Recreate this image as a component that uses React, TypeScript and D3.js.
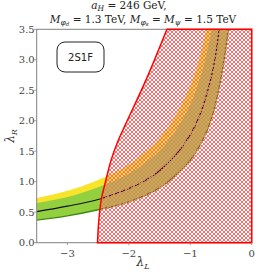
import * as d3 from 'd3';

const W = 258;
const H = 276;
const margin = { top: 29.3, right: 6.3, bottom: 33.3, left: 36.7 };

// [lambda_L, lambda_R] pairs
const centralLine: [number, number][] = [
  [-3.5, 0.51], [-3.0, 0.6], [-2.5, 0.71], [-2.0, 0.89], [-1.75, 1.01], [-1.5, 1.18],
  [-1.25, 1.42], [-1.0, 1.77], [-0.85, 2.08], [-0.7, 2.55], [-0.6, 3.0], [-0.53, 3.5],
];
const greenUpper: [number, number][] = [
  [-3.5, 0.65], [-3.0, 0.75], [-2.5, 0.91], [-2.0, 1.13], [-1.75, 1.3], [-1.5, 1.51],
  [-1.25, 1.82], [-1.0, 2.27], [-0.85, 2.67], [-0.75, 3.03], [-0.65, 3.5],
];
const greenLower: [number, number][] = [
  [-3.5, 0.37], [-3.0, 0.44], [-2.5, 0.54], [-2.0, 0.67], [-1.5, 0.9], [-1.2, 1.14],
  [-1.0, 1.35], [-0.8, 1.68], [-0.65, 2.05], [-0.53, 2.55], [-0.45, 3.0], [-0.38, 3.5],
];
const yellowUpper: [number, number][] = [
  [-3.5, 0.73], [-3.0, 0.85], [-2.5, 1.03], [-2.0, 1.28], [-1.75, 1.47], [-1.5, 1.71],
  [-1.25, 2.06], [-1.0, 2.57], [-0.85, 3.02], [-0.74, 3.5],
];
const excludedEdge: [number, number][] = [
  [-2.51, 0], [-2.49, 0.35], [-2.45, 0.7], [-2.38, 1.0], [-2.29, 1.35], [-2.18, 1.66],
  [-2.05, 1.95], [-1.72, 2.67], [-1.38, 3.5],
];

const xTicks = [-3, -2, -1, 0];
const yTicks = [0, 0.5, 1.0, 1.5, 2.0, 2.5, 3.0, 3.5];

const x = d3.scaleLinear().domain([-3.5, 0]).range([margin.left, W - margin.right]);
const y = d3.scaleLinear().domain([0, 3.5]).range([H - margin.bottom, margin.top]);

const line = d3
  .line<[number, number]>()
  .x((d) => x(d[0]))
  .y((d) => y(d[1]))
  .curve(d3.curveCatmullRom);

// band between an upper and a lower edge
const band = (upper: [number, number][], lower: [number, number][]) =>
  line(upper) + 'L' + (line([...lower].reverse()) as string).slice(1) + 'Z';

const fmtX = (v: number) => (v < 0 ? '\u2212' + Math.abs(v) : String(v));

// pixel "x" cross for the hatch, 4x4 cell
const hatchCells = [0, 1, 2, 3].flatMap((i) => [[i, i], [3 - i, i]]);

export default function App() {
  const [x0, x1] = x.range();
  const [y0, y1] = y.range();
  const redPath =
    line(excludedEdge) + `L${x(0)},${y(3.5)}L${x(0)},${y(0)}Z`;

  return (
    <svg
      width={W}
      height={H}
      style={{ position: 'absolute', left: 0, top: 0, background: '#fff' }}
    >
      <defs>
        <clipPath id="plot">
          <rect x={x0} y={y1} width={x1 - x0} height={y0 - y1} />
        </clipPath>
        <pattern id="hatch" width={4} height={4} patternUnits="userSpaceOnUse">
          {hatchCells.map(([cx, cy], i) => (
            <rect key={i} x={cx} y={cy} width={1} height={1} fill="#ff6e6e" shapeRendering="crispEdges" />
          ))}
        </pattern>
      </defs>

      {/* title */}
      <g fontFamily="DejaVu Serif" fill="#222" textAnchor="middle">
        <text x={129} y={9} fontSize={10.5}>
          <tspan fontStyle="italic">a</tspan>
          <tspan fontStyle="italic" fontSize={7.5} dy={1.5}>H</tspan>
          <tspan dy={-1.5}> = 246 GeV,</tspan>
        </text>
        <text x={143} y={22.5} fontSize={10.5}>
          <tspan fontStyle="italic">M</tspan>
          <tspan fontStyle="italic" fontSize={7.5} dy={2}>φ</tspan>
          <tspan fontStyle="italic" fontSize={5.5} dy={1.5}>d</tspan>
          <tspan dy={-3.5}> = 1.3 TeV, </tspan>
          <tspan fontStyle="italic">M</tspan>
          <tspan fontStyle="italic" fontSize={7.5} dy={2}>φ</tspan>
          <tspan fontStyle="italic" fontSize={5.5} dy={1.5}>s</tspan>
          <tspan dy={-3.5}> = </tspan>
          <tspan fontStyle="italic">M</tspan>
          <tspan fontStyle="italic" fontSize={7.5} dy={2}>ψ</tspan>
          <tspan dy={-2}> = 1.5 TeV</tspan>
        </text>
      </g>

      <g clipPath="url(#plot)">
        <path d={band(yellowUpper, greenLower)} fill="#f8e42a" />
        <path d={band(greenUpper, greenLower)} fill="#92d040" />
        <path d={line(greenLower) as string} fill="none" stroke="#3d8c12" strokeWidth={1.4} />
        <path d={line(centralLine) as string} fill="none" stroke="#111" strokeWidth={1.1} />
        <path d={redPath} fill="url(#hatch)" />
      </g>

      {/* spines */}
      <rect x={x0} y={y1} width={x1 - x0} height={y0 - y1} fill="none" stroke="#808080" strokeWidth={1} />
      <path d={redPath} fill="none" stroke="#ff0000" strokeWidth={1.5} />

      {/* ticks */}
      <g fontFamily="DejaVu Serif" fontSize={10} fill="#444">
        {xTicks.map((t) => (
          <g key={t}>
            <line x1={x(t)} x2={x(t)} y1={y0} y2={y0 + 2.5} stroke="#888" strokeWidth={0.8} />
            <text x={x(t)} y={y0 + 14} textAnchor="middle">{fmtX(t)}</text>
          </g>
        ))}
        {yTicks.map((t) => (
          <g key={t}>
            <line x1={x0 - 2.5} x2={x0} y1={y(t)} y2={y(t)} stroke="#888" strokeWidth={0.8} />
            <text x={x0 - 2} y={y(t) + 3.6} textAnchor="end">{t.toFixed(1)}</text>
          </g>
        ))}
      </g>

      {/* axis labels */}
      <text x={143} y={266} fontFamily="DejaVu Serif" fontSize={12} fill="#333" textAnchor="middle">
        <tspan fontStyle="italic">λ</tspan>
        <tspan fontStyle="italic" fontSize={8} dy={2.5}>L</tspan>
      </text>
      <text
        transform={`translate(14,${(y0 + y1) / 2}) rotate(-90)`}
        fontFamily="DejaVu Serif"
        fontSize={12}
        fill="#333"
        textAnchor="middle"
      >
        <tspan fontStyle="italic">λ</tspan>
        <tspan fontStyle="italic" fontSize={8} dy={2.5}>R</tspan>
      </text>

      {/* model tag */}
      <rect x={57} y={42} width={47} height={30} rx={8} fill="#fff" stroke="#222" strokeWidth={1} />
      <text x={80.5} y={61} fontFamily="DejaVu Sans" fontSize={10} fill="#222" textAnchor="middle">
        2S1F
      </text>
    </svg>
  );
}
